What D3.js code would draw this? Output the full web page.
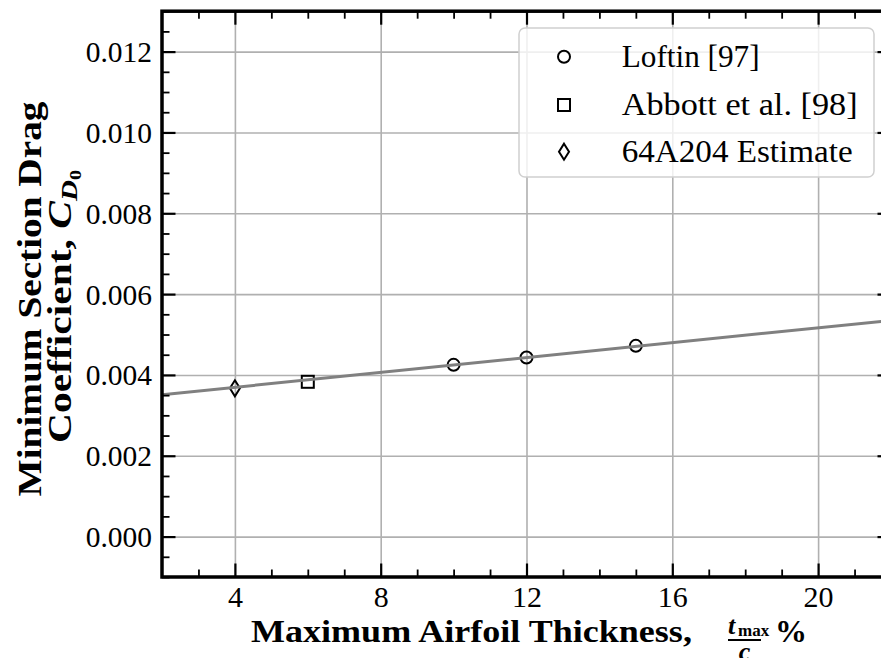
<!DOCTYPE html>
<html><head><meta charset="utf-8">
<script src="https://cdn.jsdelivr.net/npm/d3@7"></script>
<style>body{margin:0;background:#fff;} svg{display:block;} svg text{font-family:'Liberation Serif', serif;}</style>
</head><body>
<svg id="c" width="881" height="658"></svg>
<script>
// ---- data ----
const loftinX = [10, 12, 15];
const loftinY = [0.00425, 0.00443, 0.00472];
const abbottX = [6];
const abbottY = [0.00383];
const estimateX = [4];
const estimateY = [0.00367];
const fitX = [2, 22];
const fitY = [0.00351, 0.00535];
const xTicks = [4, 8, 12, 16, 20];
const xTickLabels = ["4", "8", "12", "16", "20"];
const yTicks = [0, 0.002, 0.004, 0.006, 0.008, 0.010, 0.012];
const yTickLabels = ["0.000", "0.002", "0.004", "0.006", "0.008", "0.010", "0.012"];
const legendLabels = ["Loftin [97]", "Abbott et al. [98]", "64A204 Estimate"];

const svg = d3.select("#c");
const L = 162, R = 891, T = 11.2, B = 577;
const x = d3.scaleLinear().domain([2, 22]).range([L, R]);
const y = d3.scaleLinear().domain([-0.001, 0.013]).range([B, T]);
const SERIF = "'Liberation Serif', serif";

svg.append("defs").append("clipPath").attr("id", "clip")
  .append("rect").attr("x", L).attr("y", T).attr("width", R - L).attr("height", B - T);

// grid
const gx = svg.append("g").attr("transform", `translate(0,${B})`)
  .call(d3.axisBottom(x).tickValues(xTicks).tickSize(-(B - T)).tickFormat(""));
const gy = svg.append("g").attr("transform", `translate(${L},0)`)
  .call(d3.axisLeft(y).tickValues(yTicks).tickSize(-(R - L)).tickFormat(""));
[gx, gy].forEach(g => {
  g.select(".domain").remove();
  g.selectAll("line").attr("stroke", "#b0b0b0").attr("stroke-width", 1.6);
});

// data
const plot = svg.append("g").attr("clip-path", "url(#clip)");
const diamond = (cx, cy) => `M${cx},${cy - 8}L${cx + 5},${cy}L${cx},${cy + 8}L${cx - 5},${cy}Z`;

plot.selectAll("circle.l").data(loftinX.map((d, i) => [d, loftinY[i]])).enter()
  .append("circle").attr("cx", d => x(d[0])).attr("cy", d => y(d[1])).attr("r", 6)
  .attr("fill", "none").attr("stroke", "#000").attr("stroke-width", 2);
plot.selectAll("rect.a").data(abbottX.map((d, i) => [d, abbottY[i]])).enter()
  .append("rect").attr("x", d => x(d[0]) - 6).attr("y", d => y(d[1]) - 6)
  .attr("width", 12).attr("height", 12)
  .attr("fill", "none").attr("stroke", "#000").attr("stroke-width", 2);
plot.selectAll("path.e").data(estimateX.map((d, i) => [d, estimateY[i]])).enter()
  .append("path").attr("d", d => diamond(x(d[0]), y(d[1])))
  .attr("fill", "none").attr("stroke", "#000").attr("stroke-width", 2).attr("stroke-linejoin", "miter");

plot.append("path")
  .datum(fitX.map((d, i) => [d, fitY[i]]))
  .attr("d", d3.line().x(d => x(d[0])).y(d => y(d[1])))
  .attr("fill", "none").attr("stroke", "#808080").attr("stroke-width", 3);

// helper: scale text horizontally to fit a target width
function fit(sel, target, tx, ty) {
  const w = sel.node().getComputedTextLength();
  sel.attr("transform", `translate(${tx || 0},${ty || 0}) scale(${target / w},1)`);
}
// approx. Computer Modern width of a numeric label at 30px
const cmWidth = s => 30 * s.split("").reduce((a, c) => a + (c === "." ? 0.278 : 0.5), 0);

// ticks (inward, all four sides)
function tickAxis(axisFn, scale, vals, size, tr, labels) {
  const a = axisFn(scale).tickValues(vals).tickSize(-size).tickFormat(labels ? (d, i) => labels[i] : "");
  const g = svg.append("g").attr("transform", tr).call(a);
  g.select(".domain").remove();
  g.attr("font-family", null).attr("font-size", null);
  g.selectAll("line").attr("stroke", "#000").attr("stroke-width", size > 10 ? 2.2 : 1.8);
  g.selectAll("text").style("font-family", SERIF).style("font-size", "29px").attr("fill", "#000");
  return g;
}
const xMinor = d3.range(3, 22, 1).filter(v => v % 4 !== 0);
const yMinor = d3.range(-1, 13.01, 0.5).map(v => v / 1000).filter(v => Math.abs(Math.round(v * 1e4) % 20) !== 0);

const bx = tickAxis(d3.axisBottom, x, xTicks, 13.5, `translate(0,${B})`, xTickLabels);
bx.selectAll("text").attr("x", 0).attr("y", 0).attr("dy", null).attr("text-anchor", "middle")
  .each(function(d, i) { fit(d3.select(this), cmWidth(xTickLabels[i]), 0, 30); });
tickAxis(d3.axisBottom, x, xMinor, 7.5, `translate(0,${B})`);
tickAxis(d3.axisTop, x, xTicks, 13.5, `translate(0,${T})`);
tickAxis(d3.axisTop, x, xMinor, 7.5, `translate(0,${T})`);
const ly = tickAxis(d3.axisLeft, y, yTicks, 13.5, `translate(${L},0)`, yTickLabels);
ly.selectAll("text").attr("x", 0).attr("y", 0).attr("dy", null).attr("text-anchor", "end")
  .style("font-size", "30px")
  .each(function(d, i) { fit(d3.select(this), cmWidth(yTickLabels[i]) - 2, -10, 10); });
tickAxis(d3.axisLeft, y, yMinor, 7.5, `translate(${L},0)`);
tickAxis(d3.axisRight, y, yTicks, 13.5, `translate(${R},0)`);
tickAxis(d3.axisRight, y, yMinor, 7.5, `translate(${R},0)`);

// spines
svg.append("rect").attr("x", L).attr("y", T).attr("width", R - L).attr("height", B - T)
  .attr("fill", "none").attr("stroke", "#000").attr("stroke-width", 3.5);

// legend
const lg = svg.append("g");
lg.append("rect").attr("x", 519).attr("y", 28).attr("width", 355).attr("height", 149).attr("rx", 6)
  .attr("fill", "#fff").attr("fill-opacity", 0.8).attr("stroke", "#d0d0d0").attr("stroke-width", 1.5);
const rowsY = [56.7, 105, 151.7];
const widths = [138, 236, 231];
lg.append("circle").attr("cx", 564).attr("cy", rowsY[0]).attr("r", 6)
  .attr("fill", "none").attr("stroke", "#000").attr("stroke-width", 2);
lg.append("rect").attr("x", 558).attr("y", rowsY[1] - 6).attr("width", 12).attr("height", 12)
  .attr("fill", "none").attr("stroke", "#000").attr("stroke-width", 2);
lg.append("path").attr("d", diamond(564, rowsY[2]))
  .attr("fill", "none").attr("stroke", "#000").attr("stroke-width", 2);
legendLabels.forEach((t, i) => {
  const tx = lg.append("text").attr("text-anchor", "start")
    .style("font-family", SERIF).style("font-size", "31px").text(t);
  fit(tx, widths[i], 621.7, rowsY[i] + 10);
});

// x label
const bold = sel => sel.style("font-family", SERIF).style("font-weight", "bold");
const xlab = bold(svg.append("text").attr("text-anchor", "start")).style("font-size", "32px")
  .text("Maximum Airfoil Thickness,");
fit(xlab, 441, 251, 642);
bold(svg.append("text").attr("x", 728).attr("y", 634)).style("font-style", "italic").style("font-size", "26px").text("t");
bold(svg.append("text").attr("x", 738).attr("y", 636)).style("font-size", "17px").text("max");
svg.append("line").attr("x1", 728).attr("x2", 761).attr("y1", 640).attr("y2", 640)
  .attr("stroke", "#000").attr("stroke-width", 2);
bold(svg.append("text").attr("x", 744.5).attr("y", 660).attr("text-anchor", "middle"))
  .style("font-style", "italic").style("font-size", "26px").text("c");
bold(svg.append("text").attr("x", 775).attr("y", 642)).style("font-size", "32px").text("%");

// y label
const yl1 = svg.append("g").attr("transform", `translate(41,299) rotate(-90)`);
fit(bold(yl1.append("text").attr("text-anchor", "middle")).style("font-size", "33px")
  .text("Minimum Section Drag"), 395);
const yl2 = svg.append("g").attr("transform", `translate(71,306.5) rotate(-90)`);
const t2 = bold(yl2.append("text").attr("text-anchor", "middle")).style("font-size", "33px");
t2.append("tspan").text("Coefficient, ");
t2.append("tspan").style("font-style", "italic").text("C");
t2.append("tspan").style("font-style", "italic").style("font-size", "23px").attr("dy", 6).text("D");
t2.append("tspan").style("font-size", "16px").attr("dy", 4).text("0");
fit(t2, 273);
</script>
</body></html>
